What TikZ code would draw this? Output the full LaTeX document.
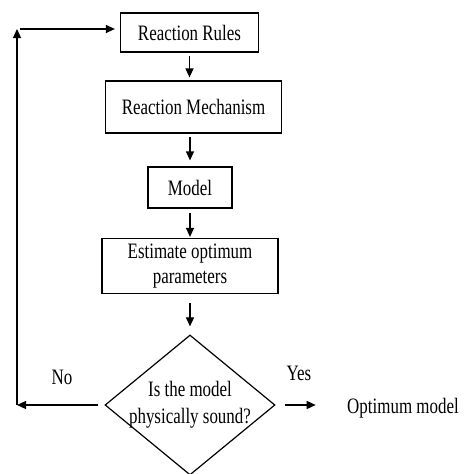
\documentclass[tikz,border=0pt]{standalone}
\usepackage{fontspec}
\setmainfont{Liberation Serif}[FakeStretch=0.77]
\usetikzlibrary{shapes.geometric,arrows.meta}

\tikzset{
    box/.style={draw,line width=1.2pt,inner sep=0pt,align=center},
    ask/.style={draw,line width=1.2pt,diamond,inner sep=-14pt,aspect=1.214,align=center,
        minimum width=170pt,minimum height=140pt},
    flow/.style={line width=1.2pt,-{Triangle[length=9pt,width=8pt]}}
}

\begin{document}
\begin{tikzpicture}[x=1pt,y=-1pt,font=\fontsize{22}{25}\selectfont]
\useasboundingbox (0,0) rectangle (465,474);

\node (rr) [box,minimum width=138pt,minimum height=39pt] at (189.5,32.5) {Reaction Rules};
\node (rm) [box,minimum width=176pt,minimum height=52pt] at (193.5,107) {Reaction Mechanism};
\node (mo) [box,minimum width=84pt,minimum height=41pt] at (190,187.5) {Model};
\node (est) [box,minimum width=176pt,minimum height=55pt] at (190,266)
    {Estimate optimum\\parameters};
\node (dec) [ask] at (190,405) {Is the model\\[2pt]physically sound?};
\node (opt) at (403,408) {Optimum model};
\node (no) at (62,377) {No};
\node (yes) at (299,373) {Yes};

\coordinate (sw) at (17,405);
\coordinate (nw) at (17,29);

\draw[flow,shorten <=3pt,shorten >=3pt] (rr.south) -- (rr.south |- rm.north);
\draw[flow,shorten <=3pt,shorten >=6pt] (mo.north |- rm.south) -- (mo.north);
\draw[flow,shorten <=4pt,shorten >=1pt] (mo) -- (est);
\draw[flow,shorten <=9pt,shorten >=8pt] (est) -- (dec);

\draw[flow,shorten <=6pt] (dec.west) -- (sw);
\draw[flow] (sw) -- (nw);
\draw[flow,shorten <=3pt,shorten >=5pt] (nw) -- (nw -| rr.west);
\draw[flow,shorten <=9pt,shorten >=28pt] (dec.east) -- (dec.east -| opt.west);
\end{tikzpicture}
\end{document}
